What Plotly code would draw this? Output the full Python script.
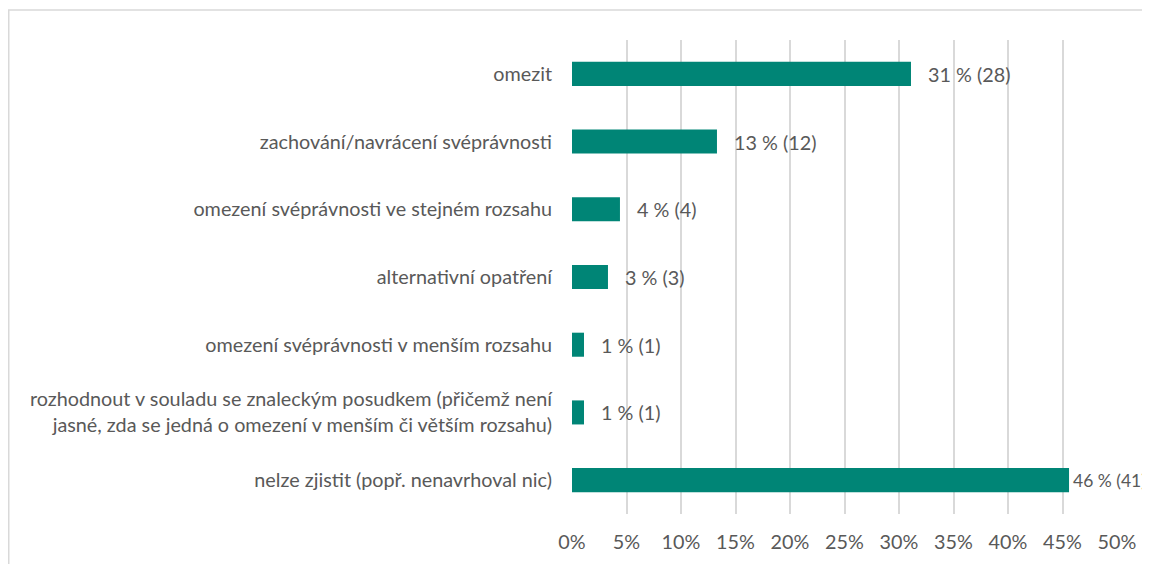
import plotly.graph_objects as go

categories = [
    "omezit",
    "zachování/navrácení svéprávnosti",
    "omezení svéprávnosti ve stejném rozsahu",
    "alternativní opatření",
    "omezení svéprávnosti v menším rozsahu",
    "rozhodnout v souladu se znaleckým posudkem (přičemž není<br>jasné, zda se jedná o omezení v menším či větším rozsahu)",
    "nelze zjistit (popř. nenavrhoval nic)",
]
percent = [31.1, 13.3, 4.4, 3.3, 1.1, 1.1, 45.6]
counts = [28, 12, 4, 3, 1, 1, 41]
pct_labels = ["31 %", "13 %", "4 %", "3 %", "1 %", "1 %", "46 %"]
tick_vals = [0, 5, 10, 15, 20, 25, 30, 35, 40, 45, 50]
tick_text = ["0%", "5%", "10%", "15%", "20%", "25%", "30%", "35%", "40%", "45%", "50%"]

FONT = "Lato"
FS = 19.8
TXT = "#595959"
BAR = "#008576"
GRID = "#d9d9d9"

fig = go.Figure()
fig.add_trace(go.Bar(
    x=percent, y=categories, orientation="h",
    marker=dict(color=BAR, line=dict(width=0)),
    width=0.355, hoverinfo="skip",
))

for p, c, lab, cat in zip(percent, counts, pct_labels, categories):
    near_edge = p > 45
    fig.add_annotation(
        x=p, y=cat, text=f"{lab} ({c})", showarrow=False,
        xanchor="left", yanchor="middle", xshift=2 if near_edge else 15,
        font=dict(family=FONT, size=17.5 if near_edge else FS, color=TXT),
    )

# outer light frame (plot area: 545 px wide, 474 px tall)
fig.add_shape(type="rect", xref="paper", yref="paper",
              x0=-1.0335, x1=1.3, y0=-0.3, y1=1.0633,
              line=dict(color=GRID, width=1.5), fillcolor="rgba(0,0,0,0)", layer="below")

fig.update_layout(
    width=1142, height=556,
    margin=dict(l=564, r=33, t=32, b=50, pad=0),
    paper_bgcolor="white", plot_bgcolor="white",
    showlegend=False,
    font=dict(family=FONT, size=FS, color=TXT),
    xaxis=dict(range=[0, 50], tickvals=tick_vals, ticktext=tick_text,
               showgrid=True, gridcolor=GRID, gridwidth=2,
               zeroline=False, showline=False, ticks="",
               ticklabelstandoff=14, fixedrange=True),
    yaxis=dict(autorange="reversed", showgrid=False, zeroline=False,
               showline=False, ticks="", ticklabelstandoff=19, fixedrange=True),
)

fig.write_html("out.html", config={"displayModeBar": False})
